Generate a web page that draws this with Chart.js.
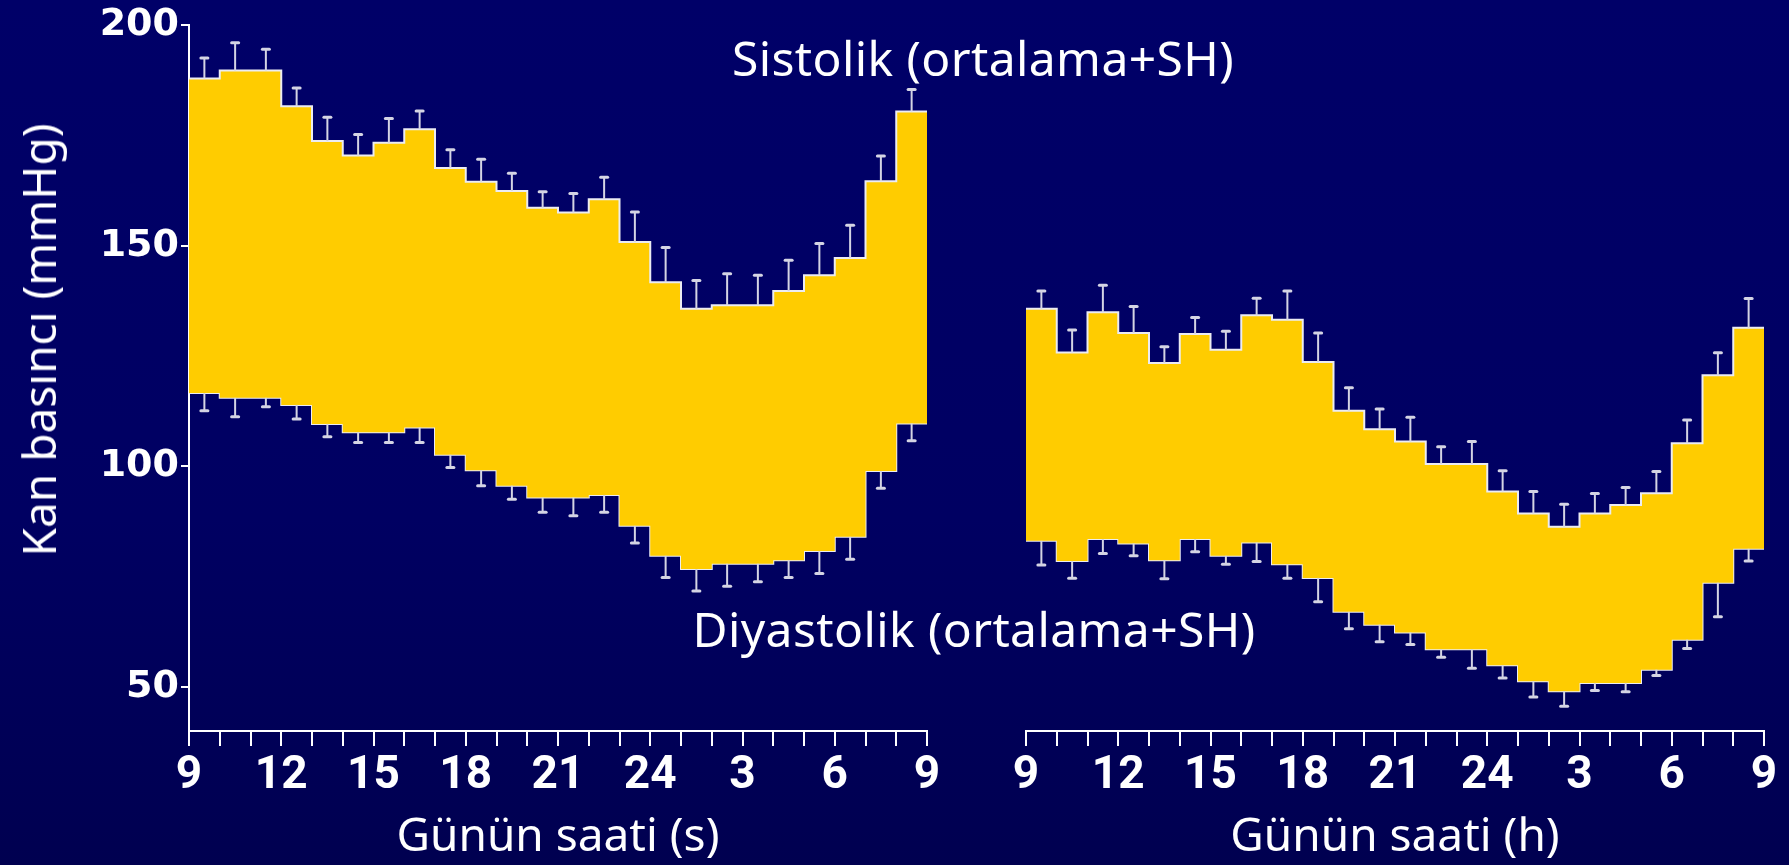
<!DOCTYPE html>
<html>
<head>
<meta charset="utf-8">
<script src="https://cdn.jsdelivr.net/npm/chart.js@4.4.0/dist/chart.umd.min.js"></script>
<style>
html, body { margin: 0; padding: 0; }
body {
    width: 1789px; height: 865px; overflow: hidden; position: relative;
    background: linear-gradient(to bottom, #000068 0%, #000062 60%, #000050 100%);
    font-family: "Noto Sans", sans-serif; color: #fff;
}
#leftWrap { position: absolute; left: 0; top: 0; width: 960px; height: 865px; }
#rightWrap { position: absolute; left: 960px; top: 0; width: 829px; height: 865px; }
.note { position: absolute; white-space: nowrap; font-size: 48px; letter-spacing: 0.4px; transform: translate(-50%, -50%); }
#yTitle {
    position: absolute; left: 38px; top: 340px; white-space: nowrap; font-size: 46px;
    transform: translate(-50%, -50%) rotate(-90deg);
}
</style>
</head>
<body>
<div id="leftWrap"><canvas id="leftChart" width="960" height="865"></canvas></div>
<div id="rightWrap"><canvas id="rightChart" width="829" height="865"></canvas></div>
<div id="yTitle">Kan basıncı (mmHg)</div>
<div class="note" style="left:983px; top:57px;">Sistolik (ortalama+SH)</div>
<div class="note" style="left:974px; top:628px;">Diyastolik (ortalama+SH)</div>
<script>
// hourly means from 9:00 to 9:00 next day, with SD (SH)
const xTickLabels = ['9', '12', '15', '18', '21', '24', '3', '6', '9'];
const yTickValues = [50, 100, 150, 200];

const leftSys   = [187.9, 189.7, 189.7, 181.6, 173.7, 170.4, 173.3, 176.4, 167.6, 164.5, 162.4, 158.6,
                   157.5, 160.5, 150.8, 141.7, 135.7, 136.5, 136.5, 139.7, 143.3, 147.2, 164.6, 180.4];
const leftSysSD = [4.6, 6.3, 4.8, 4.1, 5.4, 4.8, 5.5, 4.1, 4.1, 5.1, 4.0, 3.6,
                   4.3, 5.0, 6.8, 7.9, 6.4, 7.1, 6.8, 7.0, 7.2, 7.4, 5.7, 5.0];
const leftDia   = [116.6, 115.5, 115.5, 113.9, 109.6, 107.7, 107.7, 108.8, 102.6, 99.1, 95.6, 92.9,
                   92.9, 93.5, 86.5, 79.7, 76.7, 77.9, 77.9, 78.7, 80.8, 84.0, 98.9, 109.7];
const leftDiaSD = [4.0, 4.3, 2.0, 3.2, 2.9, 2.3, 2.3, 3.4, 2.9, 3.5, 3.1, 3.3,
                   4.1, 3.9, 3.9, 4.9, 5.0, 5.1, 4.1, 3.9, 5.1, 5.1, 3.9, 3.9];

const rightSys   = [135.7, 125.8, 134.9, 130.2, 123.4, 130.0, 126.4, 134.2, 133.2, 123.6, 112.6, 108.4,
                    105.6, 100.5, 100.5, 94.3, 89.3, 86.3, 89.3, 91.2, 93.9, 105.2, 120.6, 131.4];
const rightSysSD = [4.0, 5.1, 6.1, 6.0, 3.7, 3.7, 4.2, 3.9, 6.5, 6.6, 5.2, 4.6,
                    5.5, 3.9, 5.1, 4.7, 5.0, 5.1, 4.5, 4.0, 4.9, 5.3, 5.1, 6.6];
const rightDia   = [83.1, 78.5, 83.5, 82.5, 78.7, 83.5, 79.7, 82.7, 77.8, 74.7, 67.0, 64.1,
                    62.3, 58.5, 58.5, 54.9, 51.3, 49.0, 50.9, 50.9, 53.9, 60.7, 73.6, 81.3];
const rightDiaSD = [5.5, 3.9, 3.3, 2.8, 4.2, 2.9, 1.9, 4.3, 3.2, 5.4, 3.8, 3.9,
                    2.7, 1.8, 4.3, 2.9, 3.6, 3.4, 1.7, 2.0, 1.3, 2.0, 7.7, 2.8];

const YELLOW = '#ffcc00';
const EDGE = '#ececf2';
const BAR = '#d4d4e4';

// each hour holds its value until the next hour, so repeat the last one at the end
function stepPoints(values) {
    const pts = values.map((v, i) => ({ x: i, y: v }));
    pts.push({ x: values.length, y: values[values.length - 1] });
    return pts;
}

const errorBars = {
    id: 'errorBars',
    afterDatasetsDraw(chart) {
        const ctx = chart.ctx;
        const xs = chart.scales.x;
        const ys = chart.scales.y;
        ctx.save();
        ctx.strokeStyle = BAR;
        chart.data.datasets.forEach(ds => {
            if (!ds.sd) return;
            ds.sd.forEach((sd, i) => {
                const v = ds.data[i].y;
                const x = xs.getPixelForValue(i + 0.5);
                const y0 = ys.getPixelForValue(v);
                const y1 = ys.getPixelForValue(v + ds.sdDir * sd);
                ctx.lineWidth = 2;
                ctx.lineCap = 'butt';
                ctx.beginPath();
                ctx.moveTo(x, y0);
                ctx.lineTo(x, y1);
                ctx.stroke();
                ctx.lineWidth = 3;
                ctx.lineCap = 'round';
                ctx.beginPath();
                ctx.moveTo(x - 3.5, y1);
                ctx.lineTo(x + 3.5, y1);
                ctx.stroke();
            });
        });
        ctx.restore();
    }
};

function makeChart(id, sys, sysSD, dia, diaSD, xTitle, showY, pad) {
    return new Chart(document.getElementById(id), {
        type: 'line',
        data: {
            datasets: [{
                data: stepPoints(sys),
                sd: sysSD,
                sdDir: 1,
                stepped: true,
                fill: '+1',
                backgroundColor: YELLOW,
                borderColor: EDGE,
                borderWidth: 2,
                pointRadius: 0
            }, {
                data: stepPoints(dia),
                sd: diaSD,
                sdDir: -1,
                stepped: true,
                fill: false,
                borderColor: EDGE,
                borderWidth: 2,
                pointRadius: 0
            }]
        },
        options: {
            responsive: false,
            animation: false,
            devicePixelRatio: 1,
            layout: { padding: pad },
            plugins: {
                legend: { display: false },
                tooltip: { enabled: false }
            },
            scales: {
                x: {
                    type: 'linear',
                    min: 0,
                    max: 24,
                    ticks: {
                        stepSize: 1,
                        autoSkip: false,
                        maxRotation: 0,
                        color: '#fff',
                        padding: 3,
                        font: { family: '"Liberation Sans Narrow", Roboto, sans-serif', weight: 'bold', size: 46 },
                        callback: v => (v % 3 === 0 ? xTickLabels[v / 3] : '')
                    },
                    grid: { drawOnChartArea: false, color: '#fff', lineWidth: 2, tickLength: 15 },
                    border: { color: '#fff', width: 2 },
                    title: {
                        display: true,
                        text: xTitle,
                        color: '#fff',
                        font: { family: '"Noto Sans", sans-serif', size: 46 },
                        padding: { top: 0, bottom: 0 }
                    },
                    afterFit: s => { s.height = 134; }
                },
                y: {
                    display: showY,
                    min: 40,
                    max: 200,
                    afterBuildTicks: s => { s.ticks = yTickValues.map(v => ({ value: v })); },
                    ticks: {
                        color: '#fff',
                        padding: 2,
                        font: { family: '"DejaVu Sans", sans-serif', weight: 'bold', size: 38 }
                    },
                    grid: { drawOnChartArea: false, color: '#fff', lineWidth: 2, tickLength: 8 },
                    border: { color: '#fff', width: 2 },
                    afterFit: s => { s.width = showY ? 189 : 0; }
                }
            }
        },
        plugins: [errorBars]
    });
}

makeChart('leftChart', leftSys, leftSysSD, leftDia, leftDiaSD, 'Günün saati (s)', true,
    { top: 25, right: 33, bottom: 0, left: 0 });
makeChart('rightChart', rightSys, rightSysSD, rightDia, rightDiaSD, 'Günün saati (h)', false,
    { top: 25, right: 25, bottom: 0, left: 66 });
</script>
</body>
</html>
